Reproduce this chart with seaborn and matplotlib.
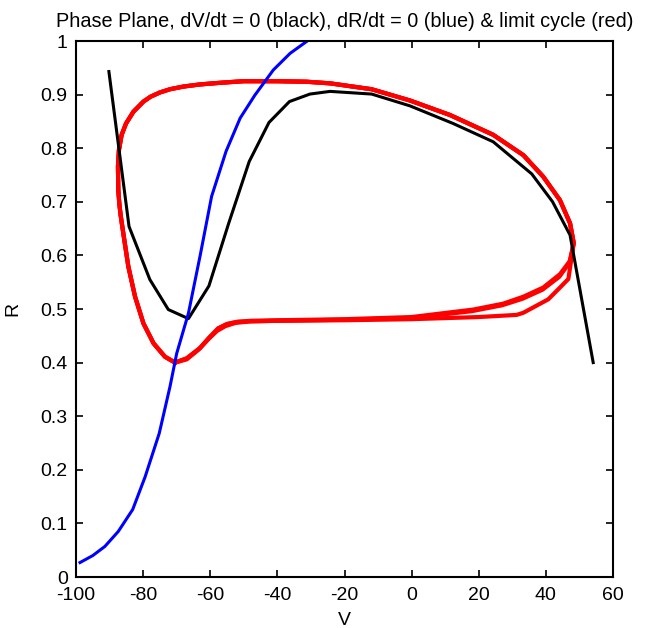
import numpy as np
import pandas as pd
import seaborn as sns
import matplotlib.pyplot as plt

# dV/dt = 0 nullcline (black)
v_null_V = [-90.2, -84.2, -78.0, -72.5, -66.5, -60.4, -54.5, -48.4, -42.5, -36.4,
            -30.3, -24.3, -11.9, -0.5, 12.4, 24.3, 35.8, 42.0, 47.2, 54.1]
v_null_R = [0.943, 0.654, 0.555, 0.499, 0.482, 0.543, 0.660, 0.775, 0.848, 0.887,
            0.901, 0.906, 0.901, 0.879, 0.846, 0.812, 0.752, 0.700, 0.638, 0.400]

# dR/dt = 0 nullcline (blue)
r_null_V = [-98.8, -95.0, -91.4, -87.4, -83.1, -79.4, -75.2, -72.0, -70.0, -66.5,
            -63.0, -59.6, -55.3, -51.1, -46.7, -41.2, -36.2, -31.1, -27.0]
r_null_R = [0.027, 0.040, 0.057, 0.085, 0.126, 0.187, 0.268, 0.355, 0.417, 0.492,
            0.600, 0.710, 0.794, 0.856, 0.899, 0.946, 0.977, 1.000, 1.020]

# limit cycle (red): shared top/left arc, then three passes along the bottom
top_V = [48.3, 47.2, 44.2, 39.2, 33.3, 24.3, 11.4, -0.5, -11.9, -24.3, -31.3, -40.0,
         -50.1, -57.1, -63.0, -68.0, -72.0, -75.0, -77.8, -79.9, -82.9, -85.1, -86.4,
         -87.2, -87.5, -87.4, -87.1, -86.7, -85.9, -84.4, -82.4, -79.9, -76.9, -73.5,
         -70.5]
top_R = [0.623, 0.660, 0.703, 0.747, 0.787, 0.825, 0.862, 0.889, 0.910, 0.921, 0.924, 0.925,
         0.925, 0.922, 0.919, 0.915, 0.910, 0.904, 0.896, 0.887, 0.868, 0.846, 0.825,
         0.797, 0.766, 0.722, 0.697, 0.675, 0.641, 0.579, 0.523, 0.473, 0.436, 0.411,
         0.400]

loop1_V = [-70.5, -67.0, -63.1, -60.1, -57.6, -55.0, -52.0, -48.0, -40.0, -20.0, 0.0,
           18.4, 27.3, 33.3, 39.2, 44.2, 47.2, 48.3] + top_V
loop1_R = [0.400, 0.408, 0.427, 0.448, 0.464, 0.472, 0.476, 0.478, 0.479, 0.481, 0.485,
           0.499, 0.510, 0.523, 0.540, 0.565, 0.590, 0.623] + top_R

loop2_V = [-70.5, -67.0, -63.5, -60.5, -58.0, -55.5, -52.5, -48.0, -40.0, -20.0, 0.0,
           18.0, 27.0, 33.0, 39.0, 44.0, 47.0, 48.3] + top_V
loop2_R = [0.400, 0.406, 0.424, 0.444, 0.459, 0.468, 0.474, 0.477, 0.478, 0.480, 0.483,
           0.496, 0.507, 0.519, 0.536, 0.560, 0.586, 0.623] + top_R

loop3_V = [-70.5, -67.0, -63.1, -60.1, -57.6, -55.0, -52.0, -48.0, -40.0, -20.0, 0.0,
           20.0, 31.3, 33.3, 40.7, 44.2, 46.7, 48.3] + top_V
loop3_R = [0.400, 0.408, 0.427, 0.448, 0.464, 0.472, 0.476, 0.477, 0.478, 0.479, 0.481,
           0.485, 0.489, 0.493, 0.518, 0.540, 0.556, 0.623] + top_R

plt.rcParams['font.family'] = ['Liberation Sans', 'DejaVu Sans']
plt.rcParams['axes.unicode_minus'] = False
fig = plt.figure(figsize=(6.47, 6.28), dpi=100)
ax = fig.add_axes([76 / 647, 1 - 577 / 628, 537 / 647, 536 / 628])

for lv, lr in [(loop1_V, loop1_R), (loop2_V, loop2_R), (loop3_V, loop3_R)]:
    sns.lineplot(x=lv, y=lr, sort=False, estimator=None, color='red', lw=3.0, ax=ax)
sns.lineplot(x=v_null_V, y=v_null_R, sort=False, estimator=None, color='black', lw=2.2, ax=ax)
sns.lineplot(x=r_null_V, y=r_null_R, sort=False, estimator=None, color='blue', lw=2.2, ax=ax)

ax.set_xlim(-100, 60)
ax.set_ylim(0, 1)
ax.set_xticks(np.arange(-100, 61, 20))
ax.set_yticks(np.round(np.arange(0, 1.01, 0.1), 1))
ax.set_yticklabels(['0', '0.1', '0.2', '0.3', '0.4', '0.5', '0.6', '0.7', '0.8', '0.9', '1'])
ax.tick_params(direction='in', length=5, width=1.2, top=True, right=True, labelsize=14)
ax.tick_params(axis='x', pad=7)
ax.tick_params(axis='y', pad=6)
for s in ax.spines.values():
    s.set_linewidth(1.5)
ax.set_xlabel('V', fontsize=14, labelpad=6)
ax.set_ylabel('R', fontsize=14, labelpad=14)
ax.set_title('Phase Plane, dV/dt = 0 (black), dR/dt = 0 (blue) & limit cycle (red)',
             fontsize=14.3, pad=10)

fig.savefig('out.png', dpi=100)
